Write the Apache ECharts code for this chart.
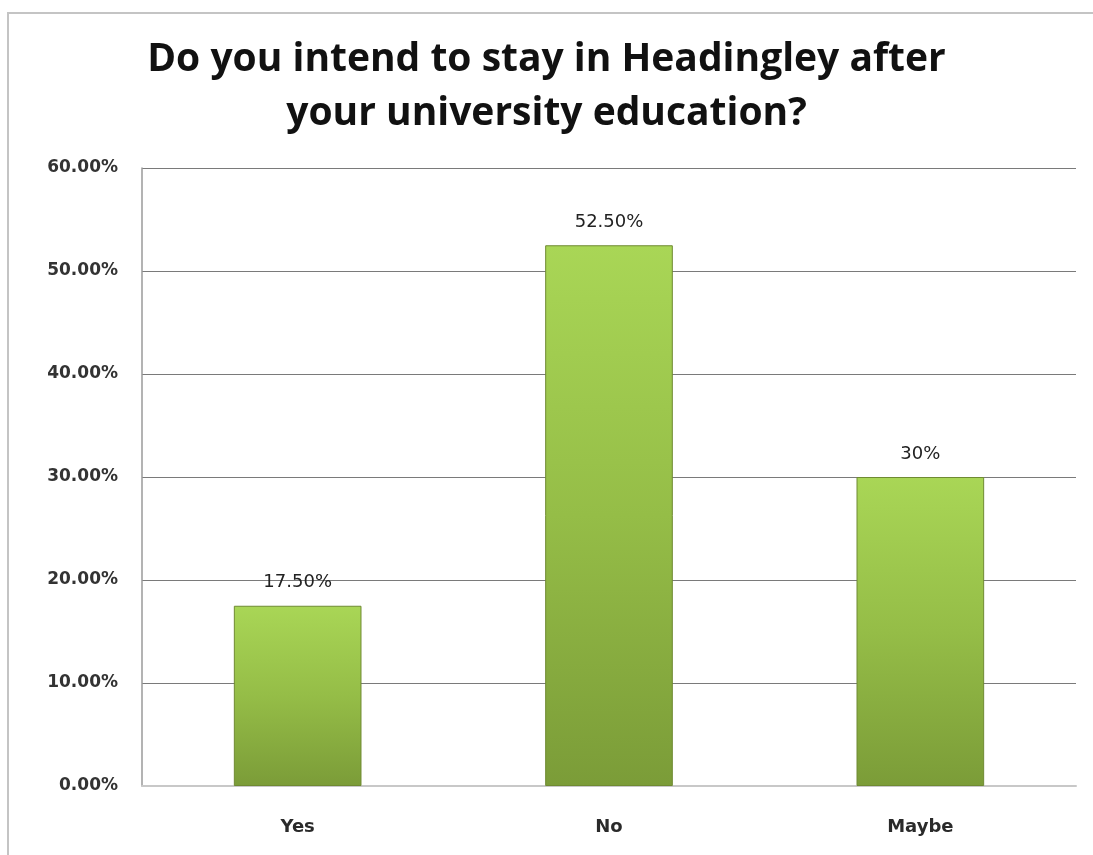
<!DOCTYPE html>
<html>
<head>
<meta charset="utf-8">
<script src="https://cdn.jsdelivr.net/npm/echarts@6/dist/echarts.min.js"></script>
<style>
  html, body { margin: 0; padding: 0; background: #fff; }
  #chart { width: 1093px; height: 855px; }
</style>
</head>
<body>
<div id="chart"></div>
<script>
const categories = ['Yes', 'No', 'Maybe'];
const values = [17.5, 52.5, 30];
const valueLabels = ['17.50%', '52.50%', '30%'];
const titleText = 'Do you intend to stay in Headingley after\nyour university education?';

const chart = echarts.init(document.getElementById('chart'));

const option = {
  backgroundColor: '#ffffff',
  animation: false,
  title: {
    text: titleText,
    left: 'center',
    top: 28,
    textStyle: {
      fontFamily: 'Open Sans',
      fontWeight: 'bold',
      fontSize: 39,
      lineHeight: 54,
      color: '#111'
    }
  },
  // outer chart frame, runs off the right and bottom edge like the reference
  graphic: [{
    type: 'rect',
    shape: { x: 8, y: 13, width: 1100, height: 870 },
    style: { fill: 'none', stroke: '#c4c4c4', lineWidth: 2 },
    silent: true
  }],
  grid: { left: 142, right: 17, top: 168, bottom: 69 },
  xAxis: {
    type: 'category',
    data: categories,
    axisLine: { lineStyle: { color: '#c8c8c8', width: 2 } },
    axisTick: { show: false },
    axisLabel: {
      margin: 32,
      fontFamily: 'DejaVu Sans',
      fontWeight: 'bold',
      fontSize: 18,
      color: '#2a2a2a'
    }
  },
  yAxis: {
    type: 'value',
    min: 0,
    max: 60,
    interval: 10,
    axisLine: { show: true, lineStyle: { color: '#9a9a9a', width: 1.5 } },
    axisTick: { show: false },
    splitLine: { lineStyle: { color: '#7a7a7a', width: 1 } },
    axisLabel: {
      margin: 24,
      fontFamily: 'DejaVu Sans',
      fontWeight: 'bold',
      fontSize: 17,
      color: '#333',
      formatter: v => v.toFixed(2) + '%'
    }
  },
  series: [{
    type: 'bar',
    data: values,
    barWidth: '41%',
    itemStyle: {
      borderColor: '#6f8a32',
      borderWidth: 1,
      color: new echarts.graphic.LinearGradient(0, 0, 0, 1, [
        { offset: 0, color: '#a9d656' },
        { offset: 0.5, color: '#95bd47' },
        { offset: 1, color: '#7b9c38' }
      ])
    },
    label: {
      show: true,
      position: 'top',
      distance: 14,
      fontFamily: 'DejaVu Sans',
      fontSize: 18,
      color: '#222',
      formatter: p => valueLabels[p.dataIndex]
    }
  }]
};

chart.setOption(option);
</script>
</body>
</html>
